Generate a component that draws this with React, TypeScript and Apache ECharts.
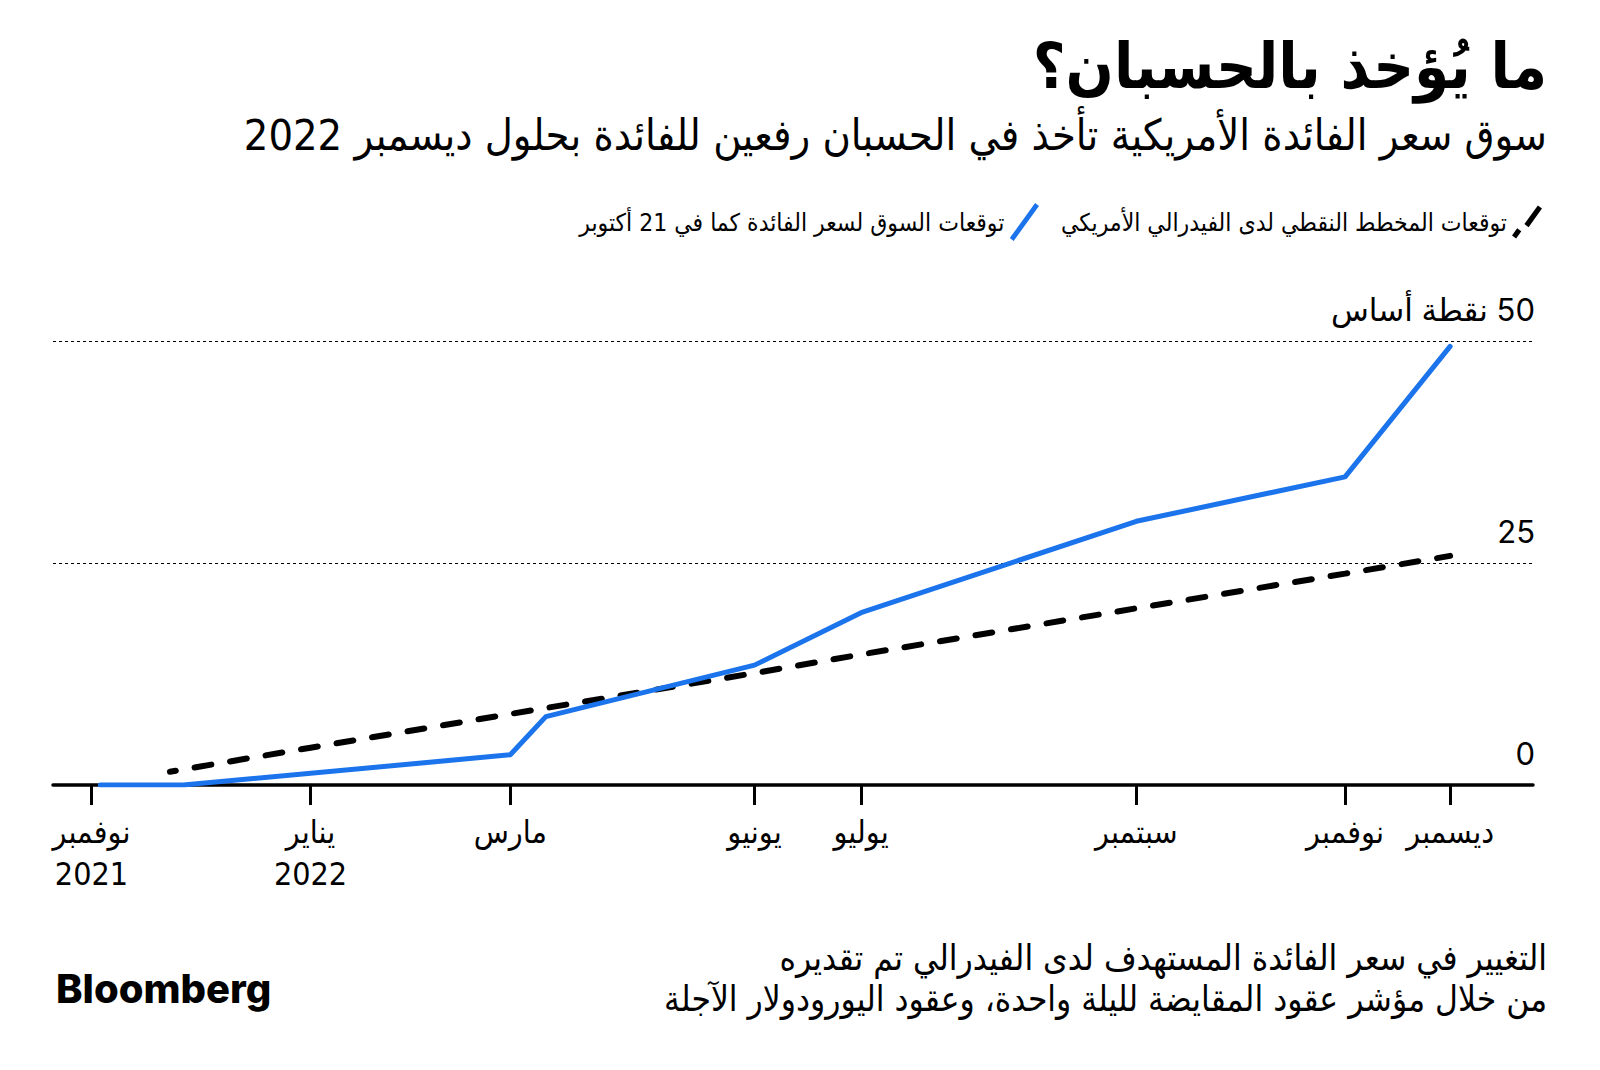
import React, { useEffect, useRef } from "react";
import * as echarts from "echarts";

// ---- data ----
const titleText = "ما يُؤخذ بالحسبان؟";
const subtitleText = "سوق سعر الفائدة الأمريكية تأخذ في الحسبان رفعين للفائدة بحلول ديسمبر 2022";
const footLine1 = "التغيير في سعر الفائدة المستهدف لدى الفيدرالي تم تقديره";
const footLine2 = "من خلال مؤشر عقود المقايضة لليلة واحدة، وعقود اليورودولار الآجلة";
const sourceText = "Bloomberg";

const marketName = "توقعات السوق لسعر الفائدة كما في 21 أكتوبر";
const dotPlotName = "توقعات المخطط النقطي لدى الفيدرالي الأمريكي";

// x positions along the (non-linear) meeting timeline, axis units 0..1000
const tickPositions = [26, 174, 309, 474, 546, 732, 873, 944];
const tickLabels = [
  "نوفمبر\n2021",
  "يناير\n2022",
  "مارس",
  "يونيو",
  "يوليو",
  "سبتمبر",
  "نوفمبر",
  "ديسمبر",
];

const marketX = [32, 88, 309, 333, 474, 546, 732, 873, 944];
const marketY = [0, 0, 3.4, 7.7, 13.5, 19.4, 29.7, 34.7, 49.4];

const dotX = [79, 174, 309, 474, 546, 732, 873, 944];
const dotY = [1.5, 4.2, 8.0, 12.6, 14.7, 19.9, 23.8, 25.8];

const yTicks = [0, 25, 50];
const yUnit = "نقطة أساس";

const ARABIC = "'DejaVu Sans Condensed', 'DejaVu Sans', sans-serif";
const NUM = "Inter, 'DejaVu Sans', sans-serif";

export default function App() {
  const ref = useRef<HTMLDivElement>(null);
  useEffect(() => {
    if (!ref.current) return;
    const chart = echarts.init(ref.current, undefined, { renderer: "svg" });
    const blue = "#1b74ec";
    const option: any = {
      animation: false,
      backgroundColor: "#ffffff",
      title: [
        {
          text: titleText,
          right: 48,
          top: 30,
          textStyle: { fontSize: 63, fontWeight: "bold", fontFamily: ARABIC, color: "#000" },
        },
        {
          text: subtitleText,
          right: 48,
          top: 108,
          textStyle: { fontSize: 43, fontWeight: "normal", fontFamily: ARABIC, color: "#000" },
        },
        {
          text: footLine1,
          right: 48,
          top: 935,
          textStyle: { fontSize: 35, fontWeight: "normal", fontFamily: ARABIC, color: "#000" },
        },
        {
          text: footLine2,
          right: 48,
          top: 976,
          textStyle: { fontSize: 35, fontWeight: "normal", fontFamily: ARABIC, color: "#000" },
        },
        {
          text: sourceText,
          left: 51,
          top: 963,
          textStyle: { fontSize: 40, fontWeight: 800, fontFamily: "Inter, 'Liberation Sans', sans-serif", color: "#000" },
        },
      ],
      legend: {
        right: 53,
        top: 198,
        align: "right",
        itemWidth: 30,
        itemHeight: 38,
        itemGap: 22,
        selectedMode: false,
        textStyle: { fontSize: 24.5, fontFamily: ARABIC, color: "#000" },
        data: [
          { name: marketName, icon: "path://M0,36 L4,39 L30,3 L26,0 Z" },
          { name: dotPlotName, icon: "path://M1,35 L5,38 L10,31 L6,28 Z M13,24 L17,27 L30,9 L26,6 Z" },
        ],
      },
      grid: { left: 53, right: 67, top: 341, bottom: 285, containLabel: false },
      xAxis: {
        type: "value",
        min: 0,
        max: 1000,
        splitLine: { show: false },
        axisLine: { show: true, lineStyle: { color: "#000", width: 3.5 } },
        axisTick: {
          show: true,
          customValues: tickPositions,
          length: 20,
          lineStyle: { color: "#000", width: 3 },
        },
        axisLabel: {
          customValues: tickPositions,
          formatter: (v: number) => {
            const i = tickPositions.findIndex((t) => Math.abs(t - v) < 0.01);
            return i >= 0 ? tickLabels[i] : "";
          },
          margin: 26,
          fontSize: 32,
          lineHeight: 42,
          fontFamily: ARABIC,
          color: "#000",
        },
      },
      yAxis: {
        type: "value",
        position: "right",
        min: 0,
        max: 50,
        interval: 25,
        axisLine: { show: false },
        axisTick: { show: false },
        splitLine: { show: true, lineStyle: { color: "#000", width: 1, type: [3, 3] } },
        axisLabel: {
          inside: true,
          margin: -2,
          verticalAlign: "bottom",
          padding: [0, 0, 16, 0],
          fontSize: 31,
          fontFamily: NUM,
          color: "#000",
          formatter: (v: number) =>
            v === yTicks[yTicks.length - 1] ? `\u200F${v} ${yUnit}` : `${v}`,
        },
      },
      series: [
        {
          name: dotPlotName,
          type: "line",
          data: dotX.map((x, i) => [x, dotY[i]]),
          showSymbol: false,
          symbol: "none",
          itemStyle: { color: "#000" },
          lineStyle: { color: "#000", width: 6, type: [17, 19], dashOffset: 11, cap: "round" },
          z: 3,
        },
        {
          name: marketName,
          type: "line",
          data: marketX.map((x, i) => [x, marketY[i]]),
          showSymbol: false,
          symbol: "none",
          itemStyle: { color: blue },
          lineStyle: { color: blue, width: 5, cap: "round", join: "round" },
          z: 4,
        },
      ],
    };
    chart.setOption(option);
    return () => chart.dispose();
  }, []);
  return (
    <div
      ref={ref}
      style={{ position: "fixed", left: 0, top: 0, width: 1600, height: 1070, background: "#fff" }}
    />
  );
}
